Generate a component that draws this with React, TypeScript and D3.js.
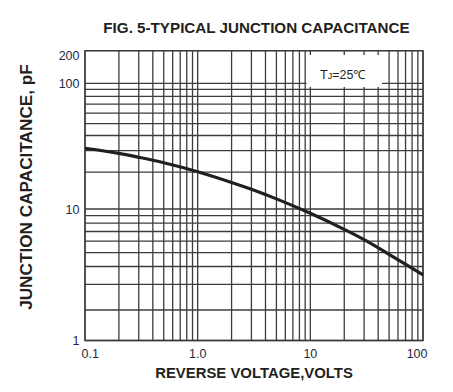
import React from "react";
import * as d3 from "d3";

const title = "FIG. 5-TYPICAL JUNCTION CAPACITANCE";
const xTitle = "REVERSE VOLTAGE,VOLTS";
const yTitle = "JUNCTION CAPACITANCE, pF";

const xTickValues = [0.1, 1, 10, 100];
const xTickLabels = ["0.1", "1.0", "10", "100"];
const yTickValues = [1, 10, 100, 200];
const yTickLabels = ["1", "10", "100", "200"];

const xGridValues = [
  0.1, 0.2, 0.3, 0.4, 0.5, 0.6, 0.7, 0.8, 0.9,
  1, 2, 3, 4, 5, 6, 7, 8, 9,
  10, 20, 30, 40, 50, 60, 70, 80, 90, 100,
];
const yGridValues = [
  1, 2, 3, 4, 5, 6, 7, 8, 9,
  10, 20, 30, 40, 50, 60, 70, 80, 90, 100, 200,
];

const voltage = [0.1, 0.2, 0.3, 0.5, 1, 2, 3, 5, 10, 20, 30, 50, 100];
const capacitance = [31.4, 28.5, 26.5, 23.9, 20.2, 16.5, 14.5, 12.1, 9.34, 7.24, 6.15, 4.87, 3.49];

const W = 453;
const H = 392;
const left = 85;
const right = 423;
const top = 50.7;
const bottom = 340.5;

// The printed grid is slightly non-uniform; use a piecewise log scale fitted to it.
const x = d3.scaleLog().domain([0.1, 100]).range([left, right]);
const y = d3
  .scaleLog()
  .domain([1, 2, 3, 5, 10, 30, 50, 100, 200])
  .range([bottom, 310, 284.3, 252.7, 209, 150.7, 123.7, 83.3, top]);

const gridColor = "#3c3c3c";
const tickColor = "#1e2a44";
const font = "'Liberation Sans', Arial, sans-serif";

export default function App() {
  const pts = voltage.map((v, i) => [x(v), y(capacitance[i])] as [number, number]);
  const line = d3.line().curve(d3.curveCatmullRom.alpha(0.5))(pts) || "";

  const box = { x0: 306.5, x1: 382, y0: 55, y1: 87 };

  return (
    <svg
      width={W}
      height={H}
      viewBox={`0 0 ${W} ${H}`}
      style={{ position: "absolute", left: 0, top: 0, background: "#fff" }}
    >
      <rect x={0} y={0} width={W} height={H} fill="#fff" />
      <text
        x={256.5}
        y={32.5}
        textAnchor="middle"
        fontFamily={font}
        fontWeight="bold"
        fontSize={15.2}
        fill="#231f20"
      >
        {title}
      </text>

      <g>
        {xGridValues.map((v) => (
          <line
            key={"xv" + v}
            x1={x(v)}
            x2={x(v)}
            y1={top}
            y2={bottom}
            stroke={gridColor}
            strokeWidth={1.3}
          />
        ))}
        {yGridValues.map((v) => (
          <line
            key={"yh" + v}
            x1={left}
            x2={right}
            y1={y(v)}
            y2={y(v)}
            stroke={gridColor}
            strokeWidth={1.3}
          />
        ))}
        <rect
          x={left}
          y={top}
          width={right - left}
          height={bottom - top}
          fill="none"
          stroke={gridColor}
          strokeWidth={1.4}
        />
      </g>

      <rect
        x={box.x0}
        y={box.y0}
        width={box.x1 - box.x0}
        height={box.y1 - box.y0}
        fill="#fff"
      />
      <text x={320} y={79} fontFamily={font} fontSize={12.5} fill="#231f20">
        T<tspan fontSize={9}>J</tspan>=25℃
      </text>

      <path d={line} fill="none" stroke="#231f20" strokeWidth={3.2} strokeLinecap="butt" />

      {yTickValues.map((v, i) => (
        <text
          key={"yt" + v}
          x={79.5}
          y={y(v) + (v === 200 ? 5 : 0)}
          dy="0.36em"
          textAnchor="end"
          fontFamily={font}
          fontSize={12.5}
          fill={tickColor}
        >
          {yTickLabels[i]}
        </text>
      ))}
      {xTickValues.map((v, i) => {
        const anchor = i === 0 ? "start" : i === xTickValues.length - 1 ? "end" : "middle";
        const xx = i === 0 ? 81.5 : i === xTickValues.length - 1 ? 427.5 : x(v);
        return (
          <text
            key={"xt" + v}
            x={xx}
            y={357.5}
            textAnchor={anchor}
            fontFamily={font}
            fontSize={12.5}
            fill={tickColor}
          >
            {xTickLabels[i]}
          </text>
        );
      })}

      <text
        x={254}
        y={377.5}
        textAnchor="middle"
        fontFamily={font}
        fontWeight="bold"
        fontSize={14.9}
        fill="#231f20"
      >
        {xTitle}
      </text>
      <text
        transform={`translate(32, 187) rotate(-90)`}
        textAnchor="middle"
        fontFamily={font}
        fontWeight="bold"
        fontSize={17.2}
        fill="#231f20"
      >
        {yTitle}
      </text>
    </svg>
  );
}
